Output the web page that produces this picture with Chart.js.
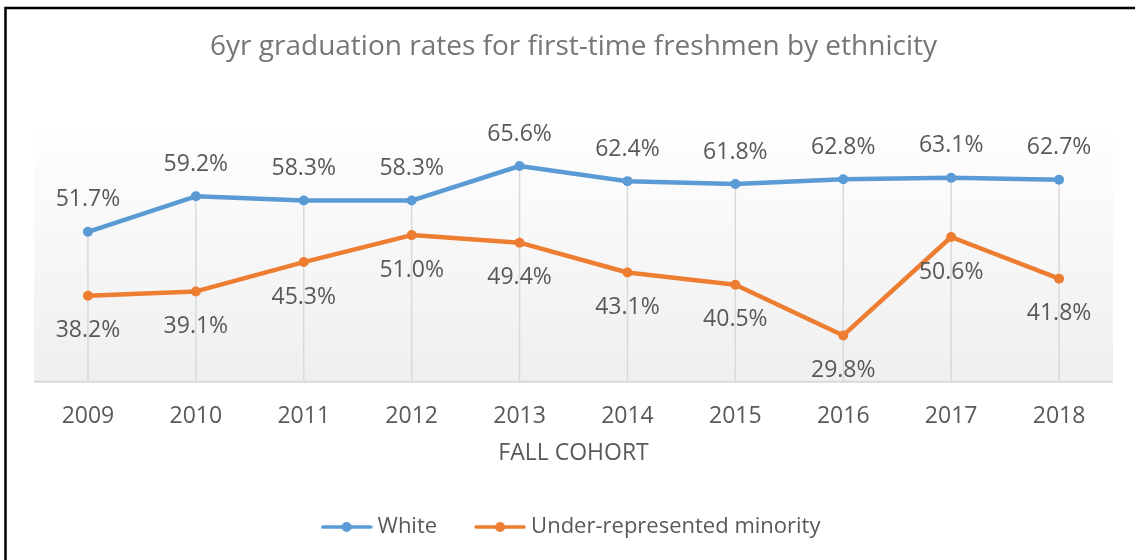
<!DOCTYPE html>
<html>
<head>
<meta charset="utf-8">
<script src="https://cdn.jsdelivr.net/npm/chart.js@4.4.1/dist/chart.umd.min.js"></script>
<style>
  html, body { margin: 0; padding: 0; background: #ffffff; }
  #wrap { width: 1135px; height: 560px; position: relative; }
</style>
</head>
<body>
<div id="wrap"><canvas id="c" width="1135" height="560"></canvas></div>
<script>
// ---- data ----
const categories = ['2009', '2010', '2011', '2012', '2013', '2014', '2015', '2016', '2017', '2018'];
const whiteRates = [51.7, 59.2, 58.3, 58.3, 65.6, 62.4, 61.8, 62.8, 63.1, 62.7];
const urmRates = [38.2, 39.1, 45.3, 51.0, 49.4, 43.1, 40.5, 29.8, 50.6, 41.8];
const seriesNames = ['White', 'Under-represented minority'];
const chartTitle = '6yr graduation rates for first-time freshmen by ethnicity';
const xAxisTitle = 'FALL COHORT';

// ---- styles ----
const FONT = "'Open Sans', 'Liberation Sans', sans-serif";
const BLUE = '#5b9bd5';
const ORANGE = '#ed7d31';
const LABEL_COLOR = '#595959';

function makeLegendIcon(color) {
  const cv = document.createElement('canvas');
  cv.width = 52; cv.height = 14;
  const g = cv.getContext('2d');
  g.strokeStyle = color; g.lineWidth = 3.5; g.lineCap = 'round';
  g.beginPath(); g.moveTo(2, 7); g.lineTo(50, 7); g.stroke();
  g.fillStyle = color;
  g.beginPath(); g.arc(26, 7, 5, 0, Math.PI * 2); g.fill();
  return cv;
}
const legendIcons = [makeLegendIcon(BLUE), makeLegendIcon(ORANGE)];

const decorPlugin = {
  id: 'decor',
  beforeDatasetsDraw(chart) {
    const {ctx, chartArea: a, scales: {x, y}} = chart;
    ctx.save();
    // plot area gradient
    const grad = ctx.createLinearGradient(0, a.top, 0, a.bottom);
    grad.addColorStop(0, '#fefefe');
    grad.addColorStop(1, '#efefef');
    ctx.fillStyle = grad;
    ctx.fillRect(a.left, a.top, a.right - a.left, a.bottom - a.top);
    // drop lines
    ctx.strokeStyle = '#d9d9d9';
    ctx.lineWidth = 1.5;
    categories.forEach((c, i) => {
      const px = x.getPixelForValue(i);
      const top = y.getPixelForValue(Math.max(whiteRates[i], urmRates[i]));
      ctx.beginPath();
      ctx.moveTo(px, top);
      ctx.lineTo(px, a.bottom);
      ctx.stroke();
    });
    // axis line
    ctx.strokeStyle = '#d9d9d9';
    ctx.lineWidth = 2;
    ctx.beginPath();
    ctx.moveTo(a.left, a.bottom);
    ctx.lineTo(a.right, a.bottom);
    ctx.stroke();
    ctx.restore();
  },
  afterDatasetsDraw(chart) {
    const {ctx} = chart;
    ctx.save();
    ctx.font = '23px ' + FONT;
    ctx.fillStyle = LABEL_COLOR;
    ctx.textAlign = 'center';
    ctx.textBaseline = 'middle';
    chart.data.datasets.forEach((ds, di) => {
      const meta = chart.getDatasetMeta(di);
      const off = di === 0 ? -32 : 35;
      meta.data.forEach((pt, i) => {
        ctx.fillText(ds.data[i].toFixed(1) + '%', pt.x, pt.y + off);
      });
    });
    ctx.restore();
  },
  afterDraw(chart) {
    const {ctx} = chart;
    ctx.save();
    ctx.strokeStyle = '#000000';
    ctx.lineWidth = 2.5;
    ctx.beginPath();
    ctx.moveTo(5.5, 560);
    ctx.lineTo(5.5, 8);
    ctx.lineTo(1135, 8);
    ctx.stroke();
    ctx.restore();
  }
};

new Chart(document.getElementById('c'), {
  type: 'line',
  data: {
    labels: categories,
    datasets: [
      {
        label: seriesNames[0], data: whiteRates,
        borderColor: BLUE, backgroundColor: BLUE,
        borderWidth: 4.5, pointRadius: 5, pointHoverRadius: 5,
        pointBackgroundColor: BLUE, pointBorderWidth: 0,
        borderJoinStyle: 'round', borderCapStyle: 'round', tension: 0
      },
      {
        label: seriesNames[1], data: urmRates,
        borderColor: ORANGE, backgroundColor: ORANGE,
        borderWidth: 4.5, pointRadius: 5, pointHoverRadius: 5,
        pointBackgroundColor: ORANGE, pointBorderWidth: 0,
        borderJoinStyle: 'round', borderCapStyle: 'round', tension: 0
      }
    ]
  },
  options: {
    responsive: false,
    animation: false,
    events: [],
    layout: { padding: { left: 34, right: 22, top: 0, bottom: 12 } },
    font: { family: FONT },
    scales: {
      x: {
        offset: true,
        grid: { display: false, drawTicks: false },
        border: { display: false },
        ticks: { color: LABEL_COLOR, font: { family: FONT, size: 23 }, padding: 21, maxRotation: 0, autoSkip: false },
        title: { display: true, text: xAxisTitle, color: LABEL_COLOR, font: { family: FONT, size: 23 }, padding: { top: -12, bottom: 6 } }
      },
      y: {
        display: false,
        min: 20,
        max: 73
      }
    },
    plugins: {
      title: {
        display: true, text: chartTitle, color: '#767676',
        font: { family: FONT, size: 28, weight: 'normal' },
        padding: { top: 30, bottom: 67.4 }
      },
      legend: {
        position: 'bottom',
        labels: {
          usePointStyle: true,
          pointStyleWidth: 40,
          padding: 43,
          color: LABEL_COLOR,
          font: { family: FONT, size: 22 },
          generateLabels(chart) {
            const items = Chart.defaults.plugins.legend.labels.generateLabels(chart);
            items.forEach((it, i) => { it.pointStyle = legendIcons[i]; });
            return items;
          }
        }
      },
      tooltip: { enabled: false }
    }
  },
  plugins: [decorPlugin]
});
</script>
</body>
</html>
